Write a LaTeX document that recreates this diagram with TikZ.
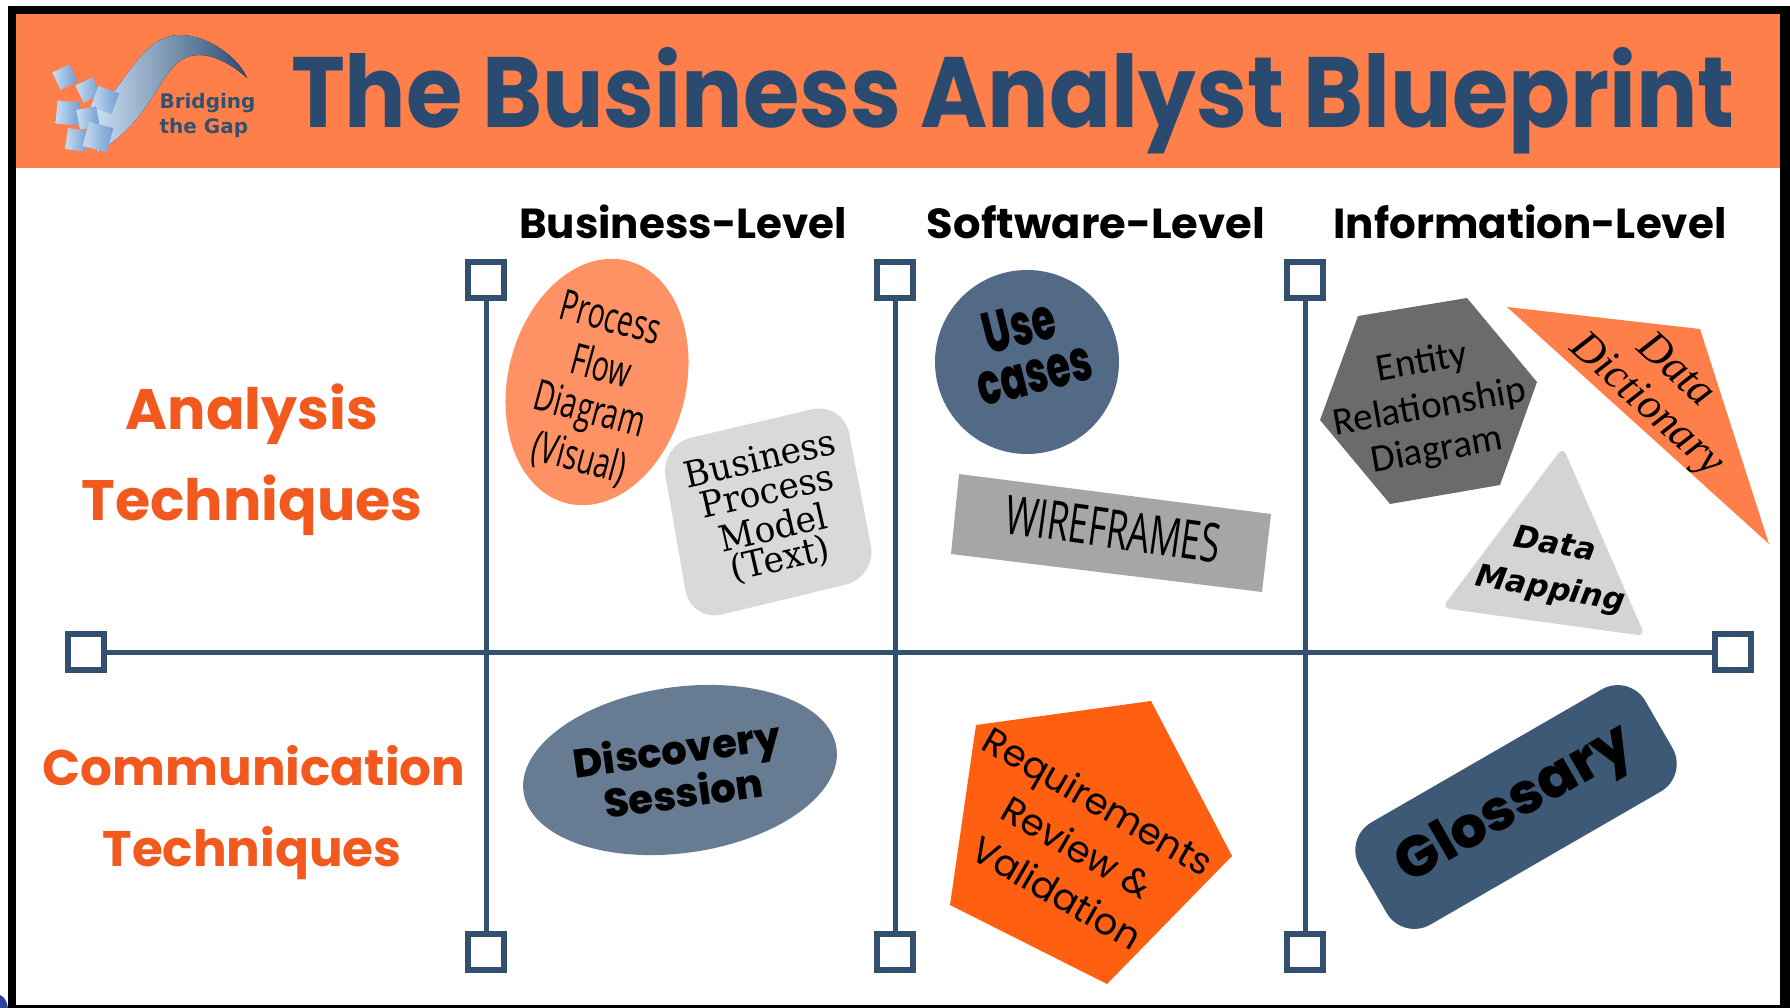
\documentclass[tikz,border=0pt]{standalone}
\usepackage{fontspec}
\setmainfont{Poppins}
\newfontfamily\heavyfont{Poppins ExtraBold}
\newfontfamily\condfont{Open Sans}
\newfontfamily\slabfont{DejaVu Serif}
\newfontfamily\calfont{Carlito}
\newfontfamily\dictfont{Liberation Serif}
\newfontfamily\dvfont{DejaVu Sans}
\usetikzlibrary{shapes.geometric,scopes}
\definecolor{bannerorange}{HTML}{FF7F4A}
\definecolor{titleblue}{HTML}{2B4A70}
\definecolor{lineblue}{HTML}{34506F}
\definecolor{rowvermilion}{HTML}{F1591F}
\definecolor{pentaorange}{HTML}{FF5F10}
\definecolor{paleblue}{HTML}{C9DDF2}
\definecolor{midblue}{HTML}{6F9BD1}
\begin{document}
\begin{tikzpicture}[x=1pt,y=-1pt,
    slotbox/.style={draw=lineblue,line width=6pt,fill=white,minimum size=36pt,inner sep=0pt},
    gridline/.style={draw=lineblue,line width=5pt},
    colhead/.style={font=\fontsize{42}{42}\selectfont\bfseries,text=black},
    rowhead/.style={font=\fontsize{#1}{#1}\selectfont\bfseries,text=rowvermilion},
    sheet/.style={draw=none,left color=paleblue,right color=midblue,inner sep=0pt}]
  \useasboundingbox (0,0) rectangle (1790,1008);
  % frame and banner
  \fill[black] (8,6) rectangle (1790,1008);
  \fill[white] (16,14) rectangle (1780,1005);
  \fill[bannerorange] (16,14) rectangle (1780,168);
  \fill[midblue!60!blue!70!black] (0,1008) -- (0,995) .. controls (5,997) and (7,1002) .. (8,1008) -- cycle;
  % logo
  \fill[left color=paleblue,right color=titleblue]
    (95,110) .. controls (125,90) and (140,35) .. (180,35)
    .. controls (210,35) and (240,60) .. (247,78)
    .. controls (225,58) and (195,45) .. (175,65)
    .. controls (155,85) and (145,125) .. (97,152) -- cycle;
  \foreach \i/\sx/\sy/\sr/\ss in {a/65/77/25/19,b/88/90/25/19,c/105/100/-20/22,d/68/113/-5/23,e/88/118/10/20,f/77/140/-8/21,g/98/137/-15/25}
    \node[sheet,rotate=\sr,minimum size=\ss pt] (sheet\i) at (\sx,\sy) {};
  \node[font=\dvfont\fontsize{20}{25}\selectfont\bfseries,text=lineblue,align=left,anchor=west] (logoname) at (156,115) {Bridging\\the Gap};
  \node[font=\fontsize{100}{100}\selectfont\bfseries,text=titleblue,xscale=.913] (title) at (1013,101) {The Business Analyst Blueprint};
  % column and row heads
  { [every node/.style={colhead}]
    \node (headbusiness) at (683,222) {Business-Level};
    \node[xscale=1.03] (headsoftware) at (1096,222) {Software-Level};
    \node (headinformation) at (1530,222) {Information-Level};
  }
  { [every node/.style={rowhead=57}]
    \node (rowanalysis) at (252,414) {Analysis};
    \node (rowtechone) at (252,505) {Techniques};
  }
  { [every node/.style={rowhead=50}]
    \node (rowcomm) at (254,766) {Communication};
    \node (rowtechtwo) at (252,853) {Techniques};
  }
  % the grid
  \node[slotbox] (hleft) at (86,652) {};
  \node[slotbox] (hright) at (1733,652) {};
  \foreach \n/\x in {b/486,s/895,i/1305} {
    \node[slotbox] (\n top) at (\x,280) {};
    \node[slotbox] (\n bot) at (\x,952) {};
    \draw[gridline] (\n top) -- (\n bot);
  }
  \draw[gridline] (hleft) -- (hright);
  % business-level
  \node[ellipse,fill=bannerorange!85!white,minimum width=178pt,minimum height=250pt,rotate=-14] (flowshape) at (597,382) {};
  { [every node/.style={font=\condfont\fontsize{43}{43}\selectfont,rotate=-15,xscale=.66}]
    \node (flowa) at (611,317) {Process};
    \node (flowb) at (602,365) {Flow};
    \node (flowc) at (589,413) {Diagram};
    \node (flowd) at (579,459) {(Visual)};
  }
  \fill[black!15,rounded corners=32pt] (660,445) -- (843,402) -- (877,577) -- (691,622) -- cycle;
  { [every node/.style={font=\slabfont\fontsize{36}{36}\selectfont,rotate=13,xscale=.96}]
    \node (bpma) at (760,458) {Business};
    \node (bpmb) at (767,491) {Process};
    \node (bpmc) at (773,527) {Model};
    \node (bpmd) at (780,560) {(Text)};
  }
  \node[ellipse,fill=lineblue!75!white,minimum width=316pt,minimum height=166pt,rotate=8,inner sep=0pt,align=center,font=\heavyfont\fontsize{40}{44}\selectfont] (discovery) at (680,770) {Discovery\\Session};
  % software-level
  \node[circle,fill=lineblue!85!white,minimum size=184pt,inner sep=0pt] (usecircle) at (1027,362) {};
  { [every node/.style={font=\heavyfont\fontsize{58}{58}\selectfont,rotate=14,xscale=.66}]
    \node (usea) at (1019,326) {Use};
    \node (useb) at (1035,377) {cases};
  }
  \fill[black!35] (959,474) -- (1271,514) -- (1262,592) -- (951,554) -- cycle;
  \node[font=\condfont\fontsize{54}{54}\selectfont,rotate=-8,xscale=.65] (wireframes) at (1113,529) {WIREFRAMES};
  \fill[pentaorange] (976,725) -- (1151,701) -- (1232,856) -- (1107,984) -- (950,905) -- cycle;
  { [every node/.style={font=\fontsize{37}{37}\selectfont,rotate=-30}]
    \node (reqa) at (1096,805) {Requirements};
    \node (reqb) at (1077,847) {Review \&};
    \node (reqc) at (1057,892) {Validation};
  }
  % information-level
  \fill[black!58] (1358,316) -- (1467,298) -- (1537,382) -- (1500,485) -- (1390,504) -- (1320,420) -- cycle;
  { [every node/.style={font=\calfont\fontsize{39}{39}\selectfont,rotate=10}]
    \node (erda) at (1422,363) {Entity};
    \node (erdb) at (1430,408) {Relationship};
    \node (erdc) at (1437,451) {Diagram};
  }
  \fill[bannerorange] (1507,307) -- (1700,329) -- (1769,544) -- cycle;
  { [every node/.style={font=\dictfont\fontsize{44}{44}\selectfont\itshape,rotate=-42}]
    \node (dicta) at (1678,368) {Data};
    \node (dictb) at (1646,406) {Dictionary};
  }
  \fill[black!17,rounded corners=8pt] (1563,447) -- (1442,608) -- (1645,636) -- cycle;
  { [every node/.style={font=\dvfont\fontsize{31}{31}\selectfont\bfseries\itshape,rotate=-10}]
    \node (mapa) at (1555,543) {Data};
    \node (mapb) at (1550,590) {Mapping};
  }
  \node[rectangle,fill=lineblue!95!white,rounded corners=32pt,minimum width=330pt,minimum height=118pt,rotate=30,font=\heavyfont\fontsize{57}{57}\selectfont] (glossary) at (1516,807) {Glossary};
\end{tikzpicture}
\end{document}
